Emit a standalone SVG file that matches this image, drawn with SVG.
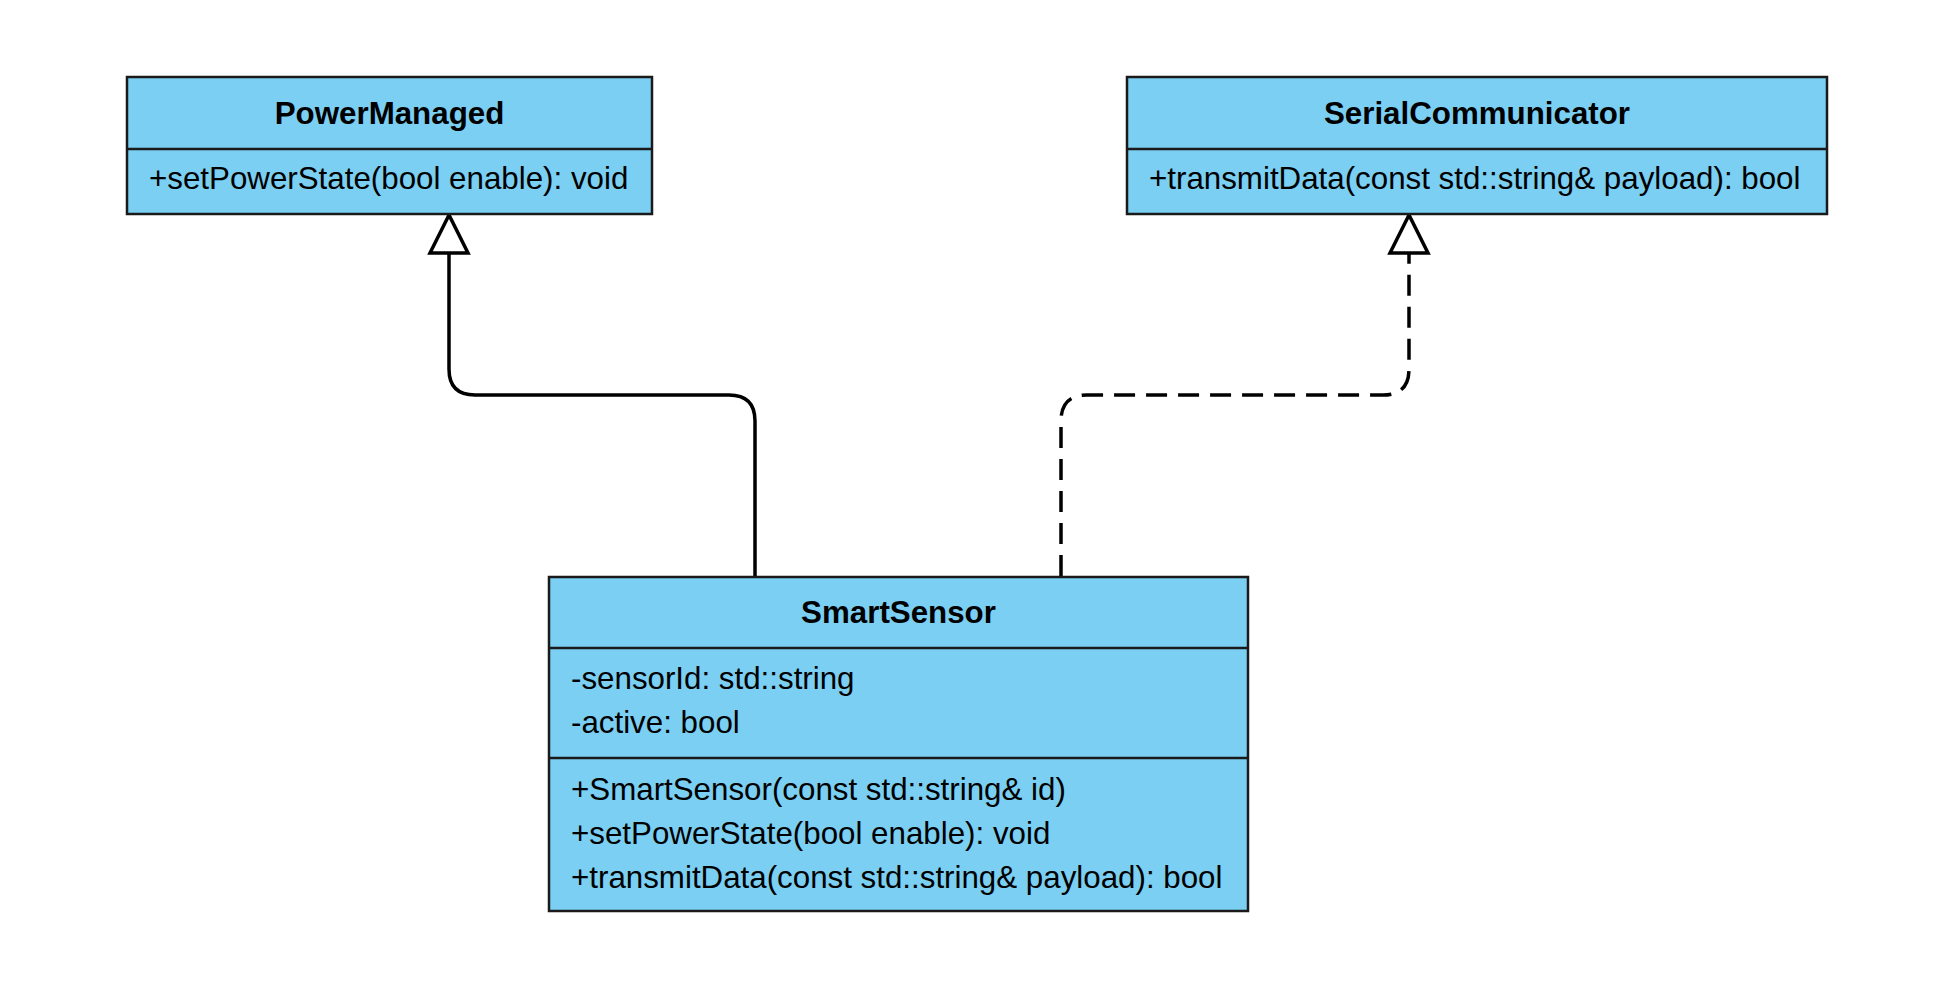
<svg xmlns="http://www.w3.org/2000/svg" width="1954" height="984" viewBox="0 0 1954 984">
<style>
.box{fill:#7acff3;stroke:#1a1a1a;stroke-width:2.5}
.div{stroke:#1a1a1a;stroke-width:2.5}
.t{font-family:"Liberation Sans",Arial,sans-serif;font-size:31.3px;fill:#000}
.b{font-weight:bold;text-anchor:middle}
.c{fill:none;stroke:#000;stroke-width:3.5}
.d{stroke-dasharray:21 11}
.ah{fill:#fff;stroke:#000;stroke-width:3.5}
</style>
<rect width="1954" height="984" fill="#fff"/>
<g id="connectors">
<path class="c" d="M755 576 V421 Q755 395 729 395 H475 Q449 395 449 369 V253"/>
<polygon class="ah" points="449,215 430,253 468,253"/>
<path class="c d" d="M1061 576 V421 Q1061 395 1087 395 H1383 Q1409 395 1409 369 V253"/>
<polygon class="ah" points="1409,215 1390,253 1428,253"/>
</g>
<g id="PowerManaged">
<rect class="box" x="127" y="77" width="525" height="137"/>
<line class="div" x1="127" y1="149" x2="652" y2="149"/>
<text class="t b" x="389.5" y="124">PowerManaged</text>
<text class="t" x="149" y="189">+setPowerState(bool enable): void</text>
</g>
<g id="SerialCommunicator">
<rect class="box" x="1127" y="77" width="700" height="137"/>
<line class="div" x1="1127" y1="149" x2="1827" y2="149"/>
<text class="t b" x="1477" y="124">SerialCommunicator</text>
<text class="t" x="1149" y="189">+transmitData(const std::string&amp; payload): bool</text>
</g>
<g id="SmartSensor">
<rect class="box" x="549" y="577" width="699" height="334"/>
<line class="div" x1="549" y1="648" x2="1248" y2="648"/>
<line class="div" x1="549" y1="758" x2="1248" y2="758"/>
<text class="t b" x="898.5" y="623">SmartSensor</text>
<text class="t" x="571" y="689">-sensorId: std::string</text>
<text class="t" x="571" y="733">-active: bool</text>
<text class="t" x="571" y="800">+SmartSensor(const std::string&amp; id)</text>
<text class="t" x="571" y="844">+setPowerState(bool enable): void</text>
<text class="t" x="571" y="888">+transmitData(const std::string&amp; payload): bool</text>
</g>
</svg>
